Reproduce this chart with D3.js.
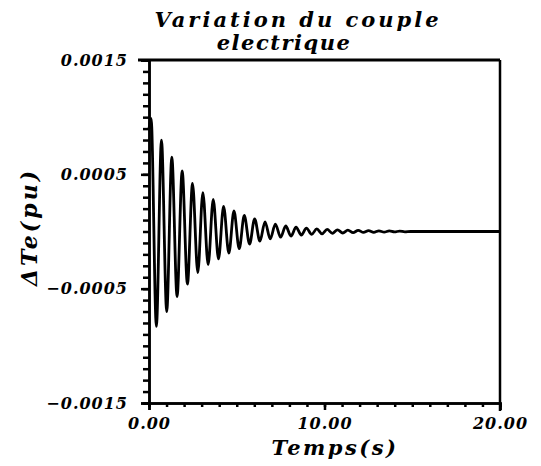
<!DOCTYPE html>
<html>
<head>
<meta charset="utf-8">
<script src="https://cdn.jsdelivr.net/npm/d3@7"></script>
<style>
  body { margin: 0; background: #fff; }
  text { font-family: "DejaVu Serif", serif; font-weight: bold; font-style: italic; fill: #000; }
</style>
</head>
<body>
<script>
// values: extrema of the torque oscillation
const times = [0, 0.12, 0.42, 0.71, 1.01, 1.30, 1.60, 1.89, 2.19, 2.48, 2.78, 3.07, 3.37, 3.66, 3.96,
  4.25, 4.55, 4.84, 5.14, 5.43, 5.73, 6.02, 6.32, 6.61, 6.91, 7.20, 7.50, 7.79, 8.09, 8.38, 8.68,
  8.97, 9.27, 9.56, 9.86, 10.15, 10.45, 10.74, 11.04, 11.33, 11.63, 11.92, 12.22, 12.51, 12.81,
  13.10, 13.40, 13.69, 13.99, 14.28, 14.58, 14.90, 20.00]
const deltaTe = [0.00090, 0.00099, -0.00083, 0.00080, -0.00070, 0.00065, -0.00057, 0.00053, -0.00046,
  0.00042, -0.00036, 0.00034, -0.00029, 0.00028, -0.00024, 0.00022, -0.00019, 0.00018, -0.00015,
  0.00014, -0.00011, 0.00011, -0.000085, 0.000085, -0.000065, 0.000065, -0.000050, 0.000048,
  -0.000040, 0.000037, -0.000031, 0.000029, -0.000025, 0.000023, -0.000020, 0.000018, -0.000016,
  0.000015, -0.000013, 0.000012, -0.000010, 0.000010, -0.000008, 0.000008, -0.000007, 0.000006,
  -0.000005, 0.000005, -0.000004, 0.000004, -0.000003, 0, 0]

const xTicks = [0, 10, 20]
const yTicks = [0.0015, 0.0005, -0.0005, -0.0015]
const titleLines = ["Variation du couple", "electrique"]

const margin = {top: 60, right: 41, bottom: 63, left: 149},
      width = 541 - margin.left - margin.right,
      height = 466 - margin.top - margin.bottom

let svg = d3.select("body")
  .append("svg")
  .attr("width", 541)
  .attr("height", 466)

let container = svg.append("g")
  .attr("transform", `translate(${margin.left},${margin.top})`)

const x = d3.scaleLinear().domain([0, 20]).range([0, width])
const y = d3.scaleLinear().domain([-0.0015, 0.0015]).range([height, 0])

// minor ticks
container.append("g")
  .attr("transform", `translate(0,${height})`)
  .call(d3.axisBottom(x).tickValues(x.ticks(20)).tickSize(4).tickFormat(""))
container.append("g")
  .call(d3.axisLeft(y).tickValues(y.ticks(30)).tickSize(6).tickFormat(""))

// major ticks with labels
container.append("g")
  .attr("transform", `translate(0,${height})`)
  .call(d3.axisBottom(x).tickValues(xTicks).tickSize(7).tickPadding(8).tickFormat(d3.format(".2f")))
container.append("g")
  .call(d3.axisLeft(y).tickValues(yTicks).tickSize(8).tickPadding(13).tickFormat(d3.format(".4f")))

container.selectAll(".domain, .tick line")
  .attr("stroke", "#000")
  .attr("stroke-width", 2.5)
container.selectAll(".tick text")
  .style("font-size", "16px")
  .style("letter-spacing", "1px")

// frame: top and right sides
container.append("line")
  .attr("x1", -11).attr("x2", width)
  .attr("y1", 0).attr("y2", 0)
  .attr("stroke", "#000").attr("stroke-width", 3)
container.append("line")
  .attr("x1", width).attr("x2", width)
  .attr("y1", 0).attr("y2", height + 8)
  .attr("stroke", "#000").attr("stroke-width", 2.5)

// curve
const line = d3.line()
  .x((d, i) => x(times[i]))
  .y(d => y(d))
  .curve(d3.curveMonotoneX)
container.append("path")
  .attr("d", line(deltaTe))
  .attr("fill", "none")
  .attr("stroke", "#000")
  .attr("stroke-width", 2.8)

// titles
svg.append("text")
  .text(titleLines[0])
  .attr("x", 298).attr("y", 27)
  .attr("text-anchor", "middle")
  .style("font-size", "21px")
  .style("letter-spacing", "3px")
svg.append("text")
  .text(titleLines[1])
  .attr("x", 284).attr("y", 50)
  .attr("text-anchor", "middle")
  .style("font-size", "21px")
  .style("letter-spacing", "1.5px")

svg.append("text")
  .text("Temps(s)")
  .attr("x", 335).attr("y", 455)
  .attr("text-anchor", "middle")
  .style("font-size", "21px")
  .style("letter-spacing", "2.5px")

svg.append("text")
  .text("\u0394Te(pu)")
  .attr("transform", "translate(37,227) rotate(-90)")
  .attr("text-anchor", "middle")
  .style("font-size", "22px")
  .style("letter-spacing", "3px")
</script>
</body>
</html>
